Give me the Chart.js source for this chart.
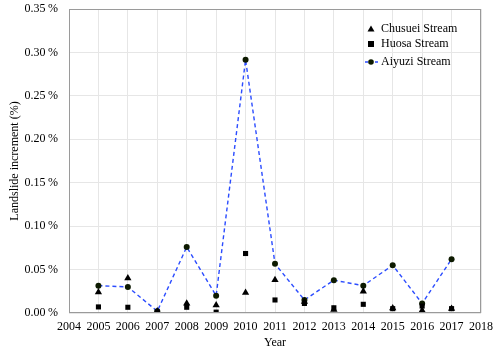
<!DOCTYPE html>
<html>
<head>
<meta charset="utf-8">
<script src="https://cdn.jsdelivr.net/npm/chart.js@4.4.1/dist/chart.umd.min.js"></script>
<style>
  html, body { margin:0; padding:0; background:#fff; }
  #wrap { width:500px; height:352px; }
</style>
</head>
<body>
<div id="wrap"><canvas id="landslideChart"></canvas></div>
<script>
const years = [2005,2006,2007,2008,2009,2010,2011,2012,2013,2014,2015,2016,2017];
const chusuei = [0.024,0.040,0.002,0.011,0.009,0.0235,0.038,0.013,0.004,0.025,0.0055,0.003,0.005];
const huosa   = [0.007,0.0066,0.001,0.0066,0.001,0.0685,0.015,0.011,0.006,0.010,0.005,0.008,0.005];
const aiyuzi  = [0.0315,0.030,0.002,0.076,0.020,0.2915,0.0566,0.015,0.0378,0.0315,0.055,0.011,0.062];
const seriesNames = ['Chusuei Stream','Huosa Stream','Aiyuzi Stream'];

function toPoints(vals){
    return years.map((y,i) => ({x:y, y:vals[i]}));
}

const serif = "'Liberation Serif','Times New Roman',serif";

// frame + legend drawn inside the plot
const framePlugin = {
    id:'frameLegend',
    afterDraw(chart){
        const {ctx, chartArea:a} = chart;
        ctx.save();
        ctx.strokeStyle = '#9a9a9a';
        ctx.lineWidth = 1;
        ctx.strokeRect(a.left+0.5, a.top+0.5, a.right-a.left-1, a.bottom-a.top-1);

        ctx.font = '12px ' + serif;
        ctx.textBaseline = 'middle';
        ctx.fillStyle = '#000';
        const mx = 371, tx = 381;
        const rows = [29, 44, 62];
        // triangle
        ctx.beginPath();
        ctx.moveTo(mx, rows[0]-3.5); ctx.lineTo(mx+3.5, rows[0]+2.5); ctx.lineTo(mx-3.5, rows[0]+2.5);
        ctx.closePath(); ctx.fill();
        // square
        ctx.fillRect(mx-3, rows[1]-3, 6, 6);
        // dashed line + dot
        ctx.strokeStyle = '#2b4cff';
        ctx.lineWidth = 1.3;
        ctx.setLineDash([3,2]);
        ctx.beginPath(); ctx.moveTo(mx-6, rows[2]); ctx.lineTo(mx+8, rows[2]); ctx.stroke();
        ctx.setLineDash([]);
        ctx.fillStyle = '#0d1a00';
        ctx.beginPath(); ctx.arc(mx, rows[2], 2.8, 0, Math.PI*2); ctx.fill();
        ctx.fillStyle = '#000';
        seriesNames.forEach((n,i) => ctx.fillText(n, tx, rows[i]));
        ctx.restore();
    }
};

const ctx = document.getElementById('landslideChart').getContext('2d');
new Chart(ctx,{
    type:'scatter',
    data:{
        datasets:[
            {
                label: seriesNames[0],
                data: toPoints(chusuei),
                pointStyle:'triangle',
                pointRadius:4.2,
                backgroundColor:'#000',
                borderColor:'#000',
                borderWidth:0,
                showLine:false
            },
            {
                label: seriesNames[1],
                data: toPoints(huosa),
                pointStyle:'rect',
                pointRadius:3.6,
                backgroundColor:'#000',
                borderColor:'#000',
                borderWidth:0,
                showLine:false
            },
            {
                label: seriesNames[2],
                data: toPoints(aiyuzi),
                showLine:true,
                borderColor:'#2b4cff',
                borderWidth:1.4,
                borderDash:[4,3],
                pointStyle:'circle',
                pointRadius:3,
                pointBackgroundColor:'#0d1a00',
                pointBorderColor:'#0d1a00',
                pointBorderWidth:0,
                fill:false,
                tension:0
            }
        ]
    },
    options:{
        responsive:true,
        maintainAspectRatio:false,
        animation:false,
        layout:{padding:{top:9, right:16, left:0, bottom:0}},
        plugins:{
            legend:{display:false},
            tooltip:{enabled:false}
        },
        scales:{
            x:{
                type:'linear',
                min:2004, max:2018,
                grid:{color:'#e6e6e6', drawTicks:false},
                border:{display:false},
                ticks:{
                    stepSize:1,
                    padding:7,
                    color:'#000',
                    maxRotation:0,
                    font:{family:serif, size:12},
                    callback: v => String(v)
                },
                title:{
                    display:true,
                    text:'Year',
                    color:'#000',
                    padding:{top:0, bottom:2},
                    font:{family:serif, size:12}
                },
                afterFit(s){ s.height = 39; }
            },
            y:{
                min:0, max:0.35,
                grid:{color:'#e6e6e6', drawTicks:false},
                border:{display:false},
                ticks:{
                    stepSize:0.05,
                    padding:11,
                    color:'#000',
                    font:{family:serif, size:12},
                    callback: v => v.toFixed(2) + '\u2009%'
                },
                title:{
                    display:true,
                    text:'Landslide increment (%)',
                    color:'#000',
                    padding:{top:8, bottom:4},
                    font:{family:serif, size:12}
                },
                afterFit(s){
                    s.width = 69;
                    s.paddingTop = 0;
                    s.paddingBottom = 0;
                }
            }
        }
    },
    plugins:[framePlugin]
});
</script>
</body>
</html>
